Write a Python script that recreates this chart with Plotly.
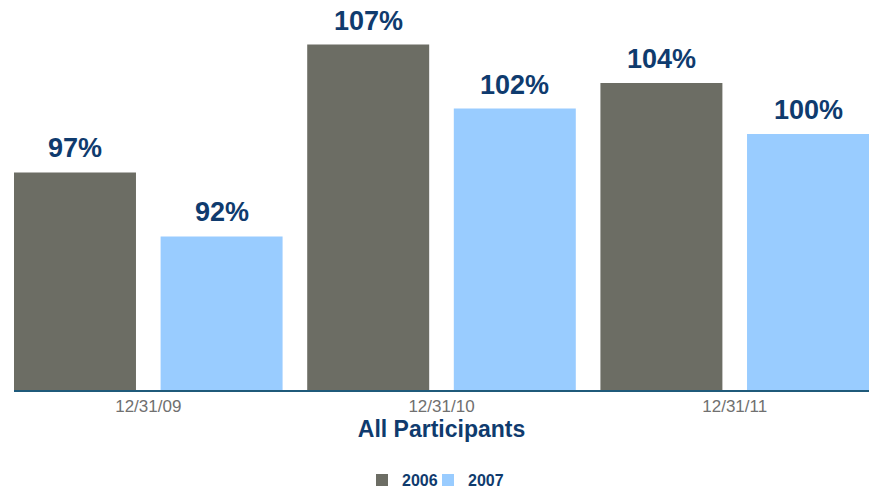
import plotly.graph_objects as go

# Funded ratio by measurement date, two participant cohorts
dates = ["12/31/09", "12/31/10", "12/31/11"]
series_names = ["2006", "2007"]
values_2006 = [97, 107, 104]
values_2007 = [92, 102, 100]

bar_colors = {"2006": "#6C6D64", "2007": "#99CCFF"}
label_color = "#0F3B6E"
font_family = "Liberation Sans, Arial, sans-serif"
legend_ids = ["legend", "legend2"]

fig = go.Figure()
for name, vals, lg in zip(series_names, [values_2006, values_2007], legend_ids):
    fig.add_trace(go.Bar(
        x=dates, y=vals, name=name, legend=lg,
        marker=dict(color=bar_colors[name], line=dict(width=0)),
        hoverinfo="skip",
    ))

# value labels above each bar (two bars per group, offset by half a slot)
n_series = len(series_names)
slot = 1.0 / n_series
for j, vals in enumerate([values_2006, values_2007]):
    for i, v in enumerate(vals):
        fig.add_annotation(
            x=i + (j - (n_series - 1) / 2) * slot, y=v,
            xref="x", yref="y",
            text=f"{v}%", showarrow=False,
            yanchor="bottom", yshift=7,
            font=dict(family=font_family, size=27, color=label_color, weight="bold"),
        )

legend_style = dict(
    orientation="h", xanchor="left", bgcolor="rgba(0,0,0,0)",
    xref="container", yref="container", y=0.022, yanchor="middle",
    font=dict(family=font_family, size=16, color=label_color, weight="bold"),
    itemwidth=30,
)

fig.update_layout(
    width=875, height=491,
    margin=dict(l=14, r=6, t=10, b=101),
    paper_bgcolor="white", plot_bgcolor="white",
    barmode="group", bargap=0, bargroupgap=0.168,
    showlegend=True,
    legend=dict(legend_style, x=362 / 875),
    legend2=dict(legend_style, x=428 / 875),
    xaxis=dict(
        type="category", range=[-0.458, 2.458],
        showline=True, linecolor="#1F5A7A", linewidth=2,
        ticks="", showgrid=False, zeroline=False,
        tickfont=dict(family=font_family, size=17, color="#707070"),
        title=dict(
            text="All Participants", standoff=3,
            font=dict(family=font_family, size=23, color=label_color, weight="bold"),
        ),
    ),
    yaxis=dict(
        range=[80, 109.7], visible=False, showgrid=False, zeroline=False,
    ),
)

fig.write_html("out.html")
